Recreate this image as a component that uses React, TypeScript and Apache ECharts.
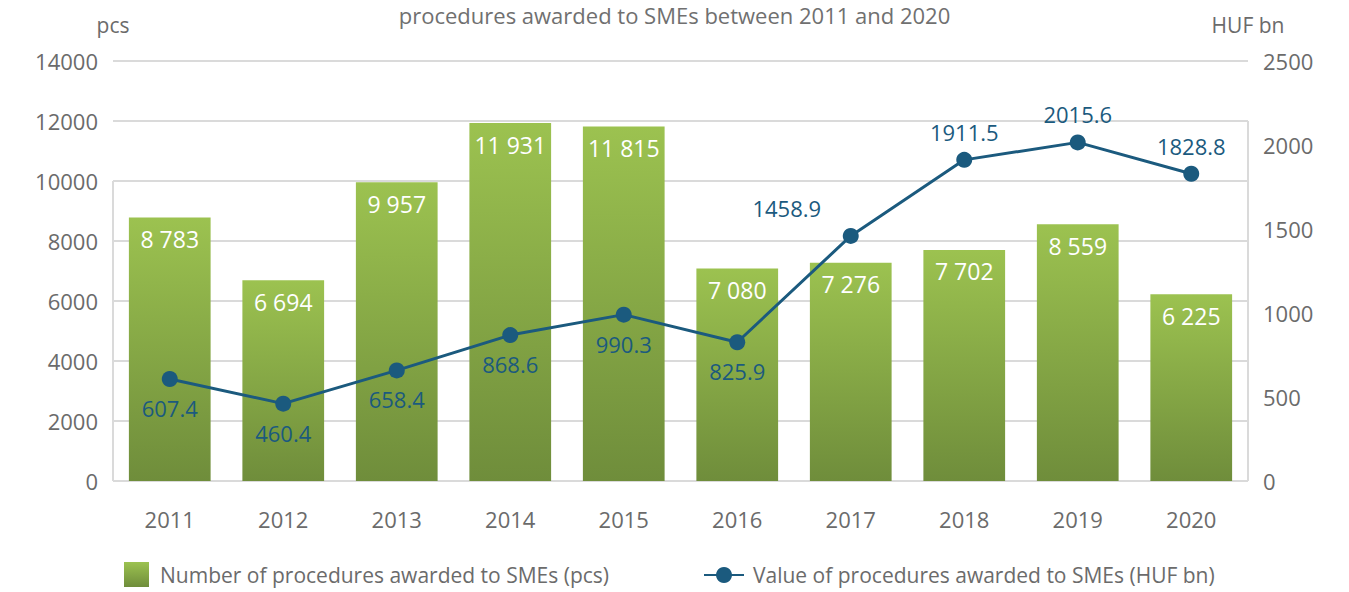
import React, { useEffect, useRef } from "react";
import * as echarts from "echarts";

const years = ["2011", "2012", "2013", "2014", "2015", "2016", "2017", "2018", "2019", "2020"];
const procedureCounts = [8783, 6694, 9957, 11931, 11815, 7080, 7276, 7702, 8559, 6225];
const procedureValues = [607.4, 460.4, 658.4, 868.6, 990.3, 825.9, 1458.9, 1911.5, 2015.6, 1828.8];
const labelAbove = [false, false, false, false, false, false, true, true, true, true];

const barName = "Number of procedures awarded to SMEs (pcs)";
const lineName = "Value of procedures awarded to SMEs (HUF bn)";
const titleText = "procedures awarded to SMEs between 2011 and 2020";

const FONT = "'Open Sans', 'DejaVu Sans', sans-serif";
const GRID_LEFT = 113;
const GRID_RIGHT = 101;
const GRID_TOP = 61;
const GRID_BOTTOM = 111;
const GREY = "#6b6b6b";
const BLUE = "#1b5a7e";
const GRID_LINE = "#dadada";

const fmtSpace = (v: number) => String(v).replace(/\B(?=(\d{3})+(?!\d))/g, " ");
const plain = (v: number) => String(v);

export default function App() {
  const ref = useRef<HTMLDivElement>(null);

  useEffect(() => {
    if (!ref.current) return;
    const chart = echarts.init(ref.current, undefined, { renderer: "svg" });
    const barGradient = new echarts.graphic.LinearGradient(0, 0, 0, 1, [
      { offset: 0, color: "#9cc250" },
      { offset: 1, color: "#6f8d3b" },
    ]);

    chart.setOption({
      animation: false,
      backgroundColor: "#ffffff",
      textStyle: { fontFamily: FONT },
      title: {
        text: titleText,
        left: "center",
        top: 3,
        padding: 0,
        textStyle: { fontFamily: FONT, fontSize: 22, lineHeight: 24, fontWeight: "normal", color: "#707070" },
      },
      legend: [
        {
          data: [{ name: barName, icon: "rect" }],
          left: 124,
          top: 562,
          padding: 0,
          itemWidth: 25,
          itemHeight: 25,
          textStyle: { fontFamily: FONT, fontSize: 21, lineHeight: 24, color: GREY, padding: [0, 0, 0, 6] },
        },
        {
          data: [lineName],
          left: 703,
          top: 564,
          padding: 0,
          itemWidth: 40,
          itemHeight: 20,
          textStyle: { fontFamily: FONT, fontSize: 21, lineHeight: 22, color: GREY, padding: [0, 0, 0, 4] },
        },
      ],
      grid: { left: GRID_LEFT, right: GRID_RIGHT, top: GRID_TOP, bottom: GRID_BOTTOM },
      xAxis: {
        type: "category",
        data: years,
        axisLine: { show: false },
        axisTick: { show: false },
        axisLabel: { color: GREY, fontSize: 22, fontFamily: FONT, margin: 27 },
      },
      yAxis: [
        {
          type: "value",
          name: "pcs",
          nameLocation: "end",
          nameGap: 26,
          nameTextStyle: { color: GREY, fontSize: 21, fontFamily: FONT, align: "center" },
          min: 0,
          max: 14000,
          interval: 2000,
          axisLine: { show: false },
          axisTick: { show: false },
          axisLabel: { color: GREY, fontSize: 22, fontFamily: FONT, margin: 15, formatter: plain },
          splitLine: { lineStyle: { color: GRID_LINE, width: 2 } },
        },
        {
          type: "value",
          name: "HUF bn",
          nameLocation: "end",
          nameGap: 26,
          nameTextStyle: { color: GREY, fontSize: 21, fontFamily: FONT, align: "center" },
          min: 0,
          max: 2500,
          interval: 500,
          axisLine: { show: false },
          axisTick: { show: false },
          axisLabel: { color: GREY, fontSize: 22, fontFamily: FONT, margin: 15, formatter: plain },
          splitLine: { show: false },
        },
      ],
      series: [
        {
          name: barName,
          type: "bar",
          yAxisIndex: 0,
          data: procedureCounts,
          barWidth: "72%",
          itemStyle: { color: barGradient },
          label: {
            show: true,
            position: "insideTop",
            distance: 10,
            color: "#ffffff",
            fontSize: 23,
            fontFamily: FONT,
            formatter: (p: any) => fmtSpace(p.value),
          },
          z: 2,
        },
        {
          name: lineName,
          type: "line",
          yAxisIndex: 1,
          data: procedureValues.map((v, i) => ({
            value: v,
            label: labelAbove[i]
              ? i === 6
                ? { position: "top", offset: [-64, -4] }
                : { position: "top", distance: 9 }
              : { position: "bottom", distance: 10 },
          })),
          symbol: "circle",
          symbolSize: 16,
          lineStyle: { color: BLUE, width: 3 },
          itemStyle: { color: BLUE },
          label: {
            show: true,
            color: BLUE,
            fontSize: 22,
            fontFamily: FONT,
            formatter: (p: any) => String(p.value),
          },
          z: 5,
        },
      ],
    });

    const yLeftTop = chart.convertToPixel({ yAxisIndex: 0 }, 10000) as number;
    const yRightTop = chart.convertToPixel({ yAxisIndex: 0 }, 12000) as number;
    const yBottom = chart.convertToPixel({ yAxisIndex: 0 }, 0) as number;
    const width = ref.current.clientWidth;
    chart.setOption({
      graphic: [
        {
          type: "line",
          shape: { x1: GRID_LEFT, y1: yLeftTop, x2: GRID_LEFT, y2: yBottom },
          style: { stroke: GRID_LINE, lineWidth: 2 },
          z: 1,
        },
        {
          type: "line",
          shape: { x1: width - GRID_RIGHT, y1: yRightTop, x2: width - GRID_RIGHT, y2: yBottom },
          style: { stroke: GRID_LINE, lineWidth: 2 },
          z: 1,
        },
      ],
    });

    return () => chart.dispose();
  }, []);

  return <div ref={ref} style={{ width: 1349, height: 592, position: "absolute", left: 0, top: 0 }} />;
}
